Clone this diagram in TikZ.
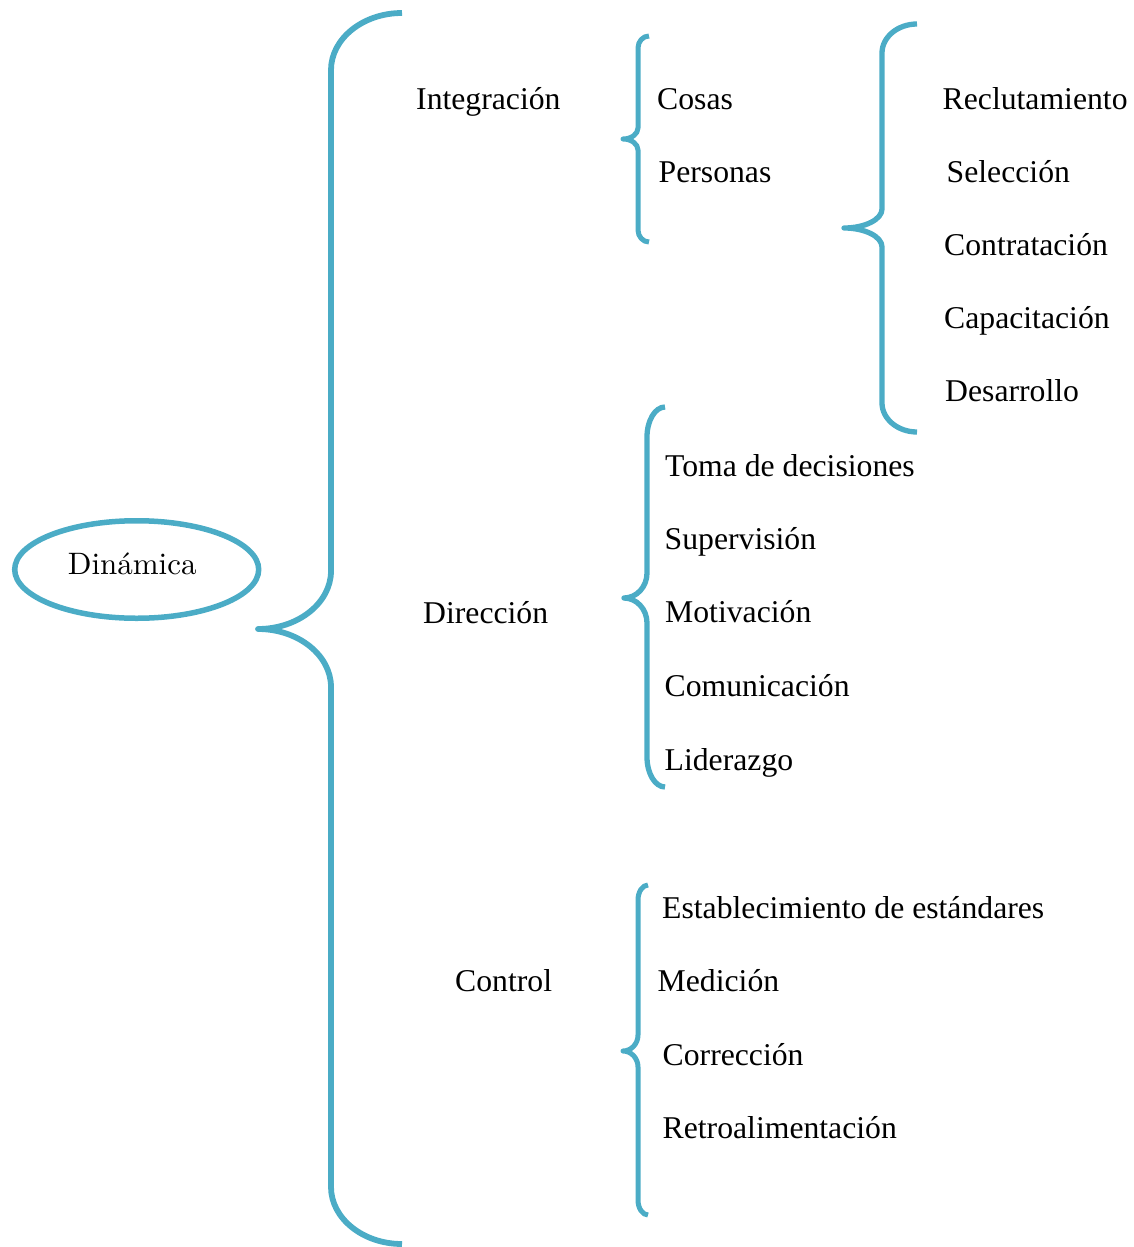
\documentclass[tikz,border=0pt]{standalone}
\usepackage{fontspec}
\newfontfamily\tnr{Liberation Serif}
\newfontfamily\lmten{lmroman10-regular.otf}
\usetikzlibrary{shapes.geometric}
\definecolor{bracecol}{HTML}{4BACC6}
\newcommand{\curlybrace}[9]{% #1 end x, #2 vertical x, #3 tip x, #4 top y, #5 tip y, #6 bottom y, #7 end radius, #8 mid radius, #9 width
  \draw[bracecol, line width=#9, line join=round]
    (#1,#4) .. controls ({#2+0.45*(#1-#2)},#4) and (#2,{#4+0.45*#7}) .. (#2,{#4+#7})
    -- (#2,{#5-#8}) .. controls (#2,{#5-0.45*#8}) and ({#3+0.55*(#2-#3)},#5) .. (#3,#5)
    .. controls ({#3+0.55*(#2-#3)},#5) and (#2,{#5+0.45*#8}) .. (#2,{#5+#8})
    -- (#2,{#6-#7}) .. controls (#2,{#6-0.45*#7}) and ({#2+0.45*(#1-#2)},#6) .. (#1,#6);}
\begin{document}
\begin{tikzpicture}[x=1pt, y=-1pt,
  txt/.style={anchor=base west, inner sep=0pt, font=\tnr\fontsize{31.7}{38}\selectfont}]
\useasboundingbox (0,0) rectangle (1133,1247);
% root
\node[ellipse, draw=bracecol, line width=5.5pt, minimum width=244pt, minimum height=97.5pt,
      inner sep=0pt, text height=20pt, text depth=11pt,
      font=\lmten\fontsize{31}{38}\selectfont] (din) at (136.7,569.5) {\hspace*{-9pt}Dinámica};
% braces
\curlybrace{402}{331}{258}{13}{629}{1244}{57}{58}{5.8pt}
\curlybrace{649}{638}{623}{36}{139}{242}{12}{11}{5pt}
\curlybrace{917}{882}{844}{24}{228}{432}{29}{19}{5.3pt}
\curlybrace{665}{647}{624}{407}{598}{787}{30}{25}{5.3pt}
\curlybrace{648}{638}{623}{885}{1051}{1215}{15}{16}{5pt}
% level 1
\node[txt] (integ) at (416,109) {Integración};
\node[txt] (direc) at (423,623) {Dirección};
\node[txt] (contr) at (455,991.5) {Control};
% Integración
\node[txt] (cosas) at (657,109.3) {Cosas};
\node[txt] (pers) at (658.5,182.3) {Personas};
% Personas
\node[txt] (recl) at (942.5,109.3) {Reclutamiento};
\node[txt] (sele) at (946.5,182) {Selección};
\node[txt] (contra) at (944,255.8) {Contratación};
\node[txt] (capa) at (944,328.5) {Capacitación};
\node[txt] (desa) at (945,401.8) {Desarrollo};
% Dirección
\node[txt] (toma) at (665,476.7) {Toma de decisiones};
\node[txt] (super) at (664.5,549.5) {Supervisión};
\node[txt] (moti) at (665,622.8) {Motivación};
\node[txt] (comu) at (664.5,696) {Comunicación};
\node[txt] (lide) at (664.5,770) {Liderazgo};
% Control
\node[txt] (esta) at (662,918.3) {Establecimiento de estándares};
\node[txt] (medi) at (657.5,991.7) {Medición};
\node[txt] (corr) at (662.5,1065) {Corrección};
\node[txt] (retro) at (662.5,1138.3) {Retroalimentación};
\end{tikzpicture}
\end{document}
